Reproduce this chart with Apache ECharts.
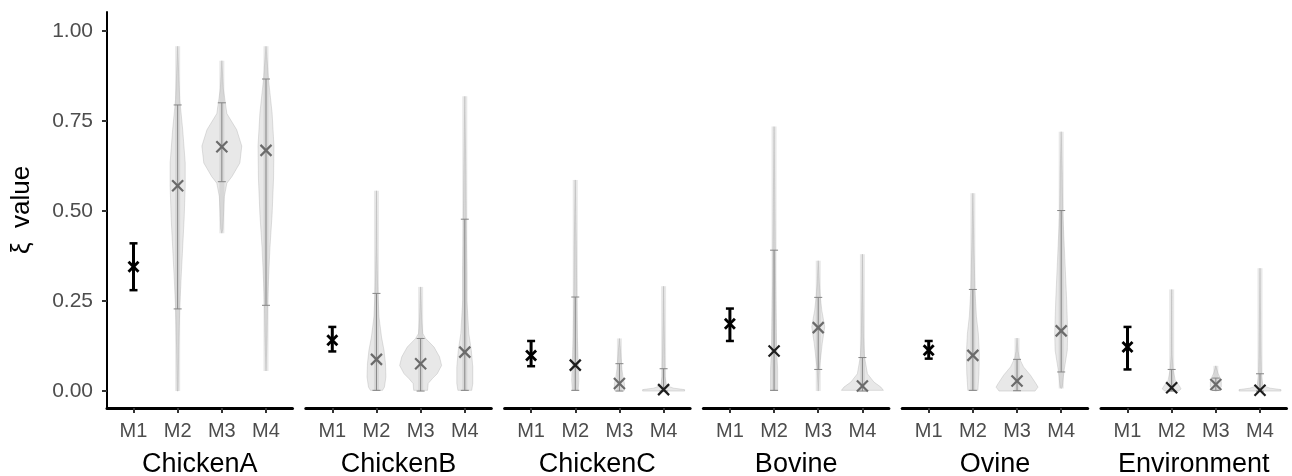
<!DOCTYPE html>
<html>
<head>
<meta charset="utf-8">
<title>xi value by method</title>
<script src="https://cdn.jsdelivr.net/npm/echarts@6/dist/echarts.min.js"></script>
<style>
    html, body { margin: 0; padding: 0; background: #fff; }
    #chart { width: 1292px; height: 476px; }
</style>
</head>
<body>
<div id="chart"></div>
<script>
// 面板和方法
const panels = ['ChickenA', 'ChickenB', 'ChickenC', 'Bovine', 'Ovine', 'Environment'];
const methods = ['M1', 'M2', 'M3', 'M4'];
const yTicks = [0, 0.25, 0.5, 0.75, 1];

// 点估计 (每行一个面板, 列为 M1..M4)
const estimate = [
    [0.345, 0.570, 0.678, 0.668],
    [0.141, 0.088, 0.076, 0.108],
    [0.099, 0.072, 0.021, 0.004],
    [0.187, 0.111, 0.176, 0.014],
    [0.113, 0.099, 0.028, 0.167],
    [0.122, 0.009, 0.018, 0.002]
];
// 区间下限 / 上限
const ciLow = [
    [0.280, 0.228, 0.581, 0.238],
    [0.110, 0.002, 0.000, 0.002],
    [0.069, 0.002, 0.000, 0.000],
    [0.139, 0.002, 0.060, 0.000],
    [0.090, 0.002, 0.001, 0.053],
    [0.060, 0.000, 0.002, 0.000]
];
const ciHigh = [
    [0.410, 0.794, 0.800, 0.866],
    [0.178, 0.271, 0.146, 0.477],
    [0.139, 0.261, 0.076, 0.062],
    [0.229, 0.391, 0.260, 0.093],
    [0.139, 0.282, 0.088, 0.501],
    [0.178, 0.060, 0.036, 0.048]
];
// 后验样本范围 (M1 没有)
const rangeLow = [
    [null, 0.000, 0.438, 0.056],
    [null, 0.000, 0.000, 0.000],
    [null, 0.000, 0.000, 0.000],
    [null, 0.000, 0.000, 0.000],
    [null, 0.000, 0.000, 0.007],
    [null, 0.000, 0.000, 0.000]
];
const rangeHigh = [
    [null, 0.957, 0.917, 0.957],
    [null, 0.556, 0.289, 0.818],
    [null, 0.586, 0.146, 0.291],
    [null, 0.734, 0.362, 0.380],
    [null, 0.549, 0.147, 0.720],
    [null, 0.282, 0.070, 0.341]
];

// 小提琴图轮廓: [数值, 相对密度], 依次为 M2, M3, M4
const violinChickenA = [
    [[0.957, 0], [0.88, 0.05], [0.81, 0.10], [0.725, 0.24], [0.633, 0.36], [0.57, 0.36], [0.48, 0.31], [0.40, 0.24], [0.32, 0.17], [0.23, 0.10], [0.12, 0.05], [0.0, 0.02]],
    [[0.917, 0], [0.84, 0.07], [0.77, 0.24], [0.725, 0.71], [0.68, 0.95], [0.633, 0.86], [0.595, 0.48], [0.577, 0.24], [0.54, 0.12], [0.45, 0.05], [0.438, 0]],
    [[0.957, 0], [0.92, 0.05], [0.864, 0.12], [0.772, 0.29], [0.68, 0.38], [0.59, 0.36], [0.49, 0.29], [0.40, 0.19], [0.31, 0.12], [0.23, 0.07], [0.15, 0.05], [0.056, 0]]
];
const violinChickenB = [
    [[0.556, 0], [0.40, 0.02], [0.30, 0.05], [0.27, 0.07], [0.206, 0.12], [0.15, 0.24], [0.113, 0.36], [0.076, 0.43], [0.039, 0.45], [0.011, 0.38], [0.002, 0.29]],
    [[0.289, 0], [0.20, 0.05], [0.16, 0.10], [0.146, 0.24], [0.122, 0.64], [0.095, 0.90], [0.071, 1.0], [0.048, 0.79], [0.034, 0.55], [0.021, 0.36], [0.002, 0.33]],
    [[0.818, 0], [0.60, 0.05], [0.45, 0.07], [0.33, 0.10], [0.252, 0.10], [0.16, 0.19], [0.113, 0.31], [0.067, 0.38], [0.021, 0.38], [0.002, 0.33]]
];
const violinChickenC = [
    [[0.586, 0], [0.40, 0.05], [0.25, 0.07], [0.15, 0.10], [0.08, 0.14], [0.03, 0.17], [0.002, 0.14]],
    [[0.146, 0], [0.10, 0.07], [0.06, 0.12], [0.04, 0.17], [0.02, 0.24], [0.002, 0.24]],
    [[0.291, 0], [0.10, 0.05], [0.04, 0.07], [0.015, 0.14], [0.008, 0.48], [0.004, 1.0], [0.0, 1.0]]
];
const violinBovine = [
    [[0.734, 0], [0.45, 0.05], [0.30, 0.07], [0.20, 0.10], [0.12, 0.12], [0.06, 0.17], [0.002, 0.17]],
    [[0.362, 0], [0.30, 0.05], [0.261, 0.10], [0.224, 0.17], [0.178, 0.31], [0.132, 0.19], [0.085, 0.10], [0.062, 0.05], [0.0, 0]],
    [[0.380, 0], [0.15, 0.05], [0.095, 0.10], [0.048, 0.24], [0.025, 0.55], [0.011, 0.88], [0.002, 1.0]]
];
const violinOvine = [
    [[0.549, 0], [0.40, 0.05], [0.28, 0.10], [0.206, 0.17], [0.16, 0.26], [0.104, 0.31], [0.048, 0.29], [0.002, 0.24]],
    [[0.147, 0], [0.11, 0.05], [0.09, 0.12], [0.067, 0.31], [0.044, 0.64], [0.021, 0.90], [0.011, 1.0], [0.0, 0.86]],
    [[0.720, 0], [0.60, 0.05], [0.503, 0.07], [0.345, 0.19], [0.252, 0.26], [0.16, 0.31], [0.113, 0.29], [0.058, 0.14], [0.011, 0.05], [0.007, 0]]
];
const violinEnvironment = [
    [[0.282, 0], [0.10, 0.02], [0.06, 0.07], [0.030, 0.17], [0.015, 0.36], [0.006, 0.45], [0.0, 0.33]],
    [[0.070, 0], [0.05, 0.10], [0.039, 0.19], [0.025, 0.26], [0.012, 0.26], [0.003, 0.14], [0.0, 0]],
    [[0.341, 0], [0.10, 0.05], [0.04, 0.07], [0.015, 0.14], [0.008, 0.48], [0.004, 1.0], [0.0, 1.0]]
];
const violinSets = [violinChickenA, violinChickenB, violinChickenC, violinBovine, violinOvine, violinEnvironment];

// 样式
const FONT = '"Liberation Sans", Arial, Helvetica, sans-serif';
const darkMarkers = { ChickenC: ['M2', 'M4'], Bovine: ['M2'], Environment: ['M2', 'M4'] };
const shadeFill = 'rgba(165,165,165,0.25)';
const halfBand = 0.475;

// 画线段
function seg(x1, y1, x2, y2, color, width) {
    return {
        type: 'line',
        shape: { x1: x1, y1: y1, x2: x2, y2: y2 },
        style: { stroke: color, lineWidth: width }
    };
}

// 画 × 标记
function cross(p, s, color, width) {
    return [
        seg(p[0] - s, p[1] - s, p[0] + s, p[1] + s, color, width),
        seg(p[0] - s, p[1] + s, p[0] + s, p[1] - s, color, width)
    ];
}

function makeRender(pi) {
    const profiles = violinSets[pi];
    return function (params, api) {
        const x = api.value(0);
        const j = x - 1;
        const pE = api.coord([x, api.value(1)]);
        const pLo = api.coord([x, api.value(2)]);
        const pHi = api.coord([x, api.value(3)]);
        const kids = [];

        if (j === 0) {
            kids.push(seg(pHi[0], pHi[1], pLo[0], pLo[1], '#000', 3));
            kids.push(seg(pHi[0] - 4, pHi[1], pHi[0] + 4, pHi[1], '#000', 2.5));
            kids.push(seg(pLo[0] - 4, pLo[1], pLo[0] + 4, pLo[1], '#000', 2.5));
            kids.push(...cross(pE, 5, '#000', 2.8));
        } else {
            const prof = profiles[j - 1];
            const right = prof.map(k => api.coord([x + k[1] * halfBand, k[0]]));
            const left = prof.slice().reverse().map(k => api.coord([x - k[1] * halfBand, k[0]]));
            kids.push({
                type: 'polygon',
                shape: { points: right.concat(left) },
                style: { fill: shadeFill, stroke: 'rgba(150,150,150,0.28)', lineWidth: 1 }
            });
            const r0 = api.coord([x, rangeLow[pi][j]]);
            const r1 = api.coord([x, rangeHigh[pi][j]]);
            kids.push(seg(r1[0], r1[1], r0[0], r0[1], shadeFill, 5));
            kids.push(seg(pHi[0], pHi[1], pLo[0], pLo[1], '#858585', 1));
            kids.push(seg(pHi[0] - 4, pHi[1], pHi[0] + 4, pHi[1], '#858585', 1));
            kids.push(seg(pLo[0] - 4, pLo[1], pLo[0] + 4, pLo[1], '#858585', 1));
            const dark = (darkMarkers[panels[pi]] || []).indexOf(methods[j]) >= 0;
            kids.push(...cross(pE, 5.5, dark ? '#1e1e1e' : '#6b6b6b', 2.2));
        }
        return { type: 'group', children: kids };
    };
}

const gridLeft0 = 107, gridPitch = 198.8, gridWidth = 185.5;

const option = {
    backgroundColor: '#fff',
    animation: false,
    grid: panels.map((p, i) => ({
        left: gridLeft0 + i * gridPitch,
        top: 12,
        width: gridWidth,
        height: 396,
        containLabel: false,
        outerBoundsMode: 'none'
    })),
    xAxis: panels.map((p, i) => ({
        type: 'value',
        gridIndex: i,
        min: 0.4,
        max: 4.6,
        splitLine: { show: false },
        axisLine: { onZero: false, lineStyle: { color: '#000', width: 3 } },
        axisTick: { customValues: [1, 2, 3, 4], length: 5, lineStyle: { color: '#333', width: 2 } },
        axisLabel: {
            customValues: [1, 2, 3, 4],
            formatter: v => methods[Math.round(v) - 1],
            fontSize: 20,
            color: '#4d4d4d',
            fontFamily: FONT,
            margin: 13
        },
        name: p,
        nameLocation: 'middle',
        nameGap: 43,
        nameTextStyle: { fontSize: 27, color: '#000', fontFamily: FONT }
    })),
    yAxis: panels.map((p, i) => ({
        type: 'value',
        gridIndex: i,
        min: -0.047,
        max: 1.052,
        show: i === 0,
        splitLine: { show: false },
        axisLine: { show: true, onZero: false, lineStyle: { color: '#000', width: 2 } },
        axisTick: { customValues: yTicks, length: 5, lineStyle: { color: '#333', width: 2 } },
        axisLabel: {
            customValues: yTicks,
            formatter: v => v.toFixed(2),
            fontSize: 21,
            color: '#4d4d4d',
            fontFamily: FONT,
            margin: 14
        },
        name: i === 0 ? 'ξ  value' : '',
        nameLocation: 'middle',
        nameGap: 72,
        nameTextStyle: { fontSize: 26, color: '#000', fontFamily: FONT }
    })),
    series: panels.map((p, i) => ({
        type: 'custom',
        xAxisIndex: i,
        yAxisIndex: i,
        clip: false,
        renderItem: makeRender(i),
        data: methods.map((m, j) => [j + 1, estimate[i][j], ciLow[i][j], ciHigh[i][j]])
    }))
};

const chart = echarts.init(document.getElementById('chart'));
chart.setOption(option);
</script>
</body>
</html>
